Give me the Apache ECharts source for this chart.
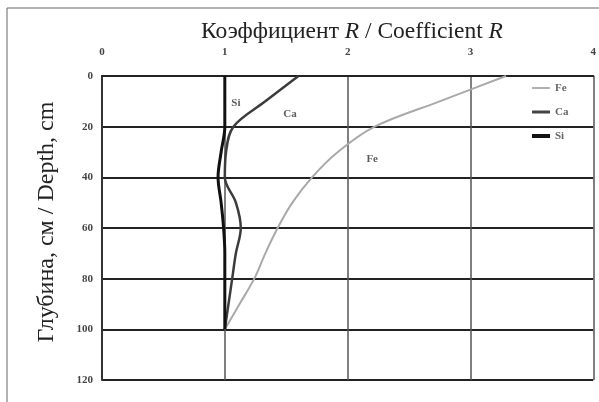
<!DOCTYPE html>
<html>
<head>
<meta charset="utf-8">
<script src="https://cdn.jsdelivr.net/npm/echarts@6/dist/echarts.min.js"></script>
<style>
  html, body { margin: 0; padding: 0; background: #fff; }
  #main { width: 599px; height: 402px; }
</style>
</head>
<body>
<div id="main"></div>
<script>
// depth, cm (y axis, inverted)
const depth = [0, 10, 20, 30, 40, 50, 60, 70, 80, 90, 100];
// coefficient R for each element
const fe = [3.29, 2.75, 2.22, 1.92, 1.71, 1.55, 1.43, 1.33, 1.24, 1.12, 1.0];
const ca = [1.60, 1.33, 1.07, 1.01, 1.00, 1.09, 1.13, 1.09, 1.06, 1.03, 1.0];
const si = [1.00, 1.00, 1.00, 0.97, 0.945, 0.97, 0.99, 1.00, 1.00, 1.00, 1.0];

const xTicks = [0, 1, 2, 3, 4];
const yTicks = [0, 20, 40, 60, 80, 100, 120];

// in-plot labels next to the curves
const tagNames = ['Si', 'Ca', 'Fe'];
const tagX = [1.09, 1.53, 2.2];
const tagDepth = [10.8, 15, 33];

const serif = '"Liberation Serif", "DejaVu Serif", serif';

function pairs(vals){ return vals.map((v,i)=>[v, depth[i]]); }
// short dash icon for the legend (empty first segment keeps the box height)
function dash(h){ return 'path://M0,0L0,14M0,' + (7 - h/2) + 'h18v' + h + 'h-18z'; }

const chart = echarts.init(document.getElementById('main'));

const lineSeries = (name, vals, color, width) => ({
  name, type: 'line', data: pairs(vals), smooth: 0.35,
  showSymbol: false, symbol: 'none',
  lineStyle: { color, width }, itemStyle: { color },
  z: 5
});

chart.setOption({
  animation: false,
  grid: { left: 102, right: 2, top: 76, bottom: 22 },
  xAxis: {
    type: 'value', position: 'top', min: xTicks[0], max: xTicks[xTicks.length-1], interval: 1,
    axisLine: { show: true, lineStyle: { color: '#222', width: 2 } },
    axisTick: { show: false },
    axisLabel: { margin: 18, fontFamily: serif, fontWeight: 'bold', fontSize: 11, color: '#444' },
    splitLine: { show: true, lineStyle: { color: '#555', width: 1.5 } }
  },
  yAxis: {
    type: 'value', inverse: true, min: yTicks[0], max: yTicks[yTicks.length-1], interval: 20,
    axisLine: { show: true, lineStyle: { color: '#333', width: 2 } },
    axisTick: { show: false },
    axisLabel: { margin: 9, fontFamily: serif, fontWeight: 'bold', fontSize: 11, color: '#444' },
    splitLine: { show: true, lineStyle: { color: '#222', width: 2 } }
  },
  legend: {
    orient: 'vertical', left: 532, top: 81, itemGap: 10,
    itemWidth: 18, itemHeight: 14,
    data: [
      { name: 'Fe', icon: dash(2), itemStyle: { color: '#b0b0b0' } },
      { name: 'Ca', icon: dash(3), itemStyle: { color: '#444' } },
      { name: 'Si', icon: dash(4), itemStyle: { color: '#111' } }
    ],
    textStyle: { fontFamily: serif, fontWeight: 'bold', fontSize: 11, color: '#666' },
    padding: [0, 4, 0, 0]
  },
  graphic: [
    { type: 'rect', shape: { x: 7, y: 8, width: 700, height: 500 },
      style: { fill: 'none', stroke: '#666', lineWidth: 1 }, silent: true },
    { type: 'text', x: 352, y: 32,
      style: { text: '{n|Коэффициент }{i|R}{n| / Coefficient }{i|R}', align: 'center', verticalAlign: 'middle',
        rich: {
          n: { fontFamily: serif, fontSize: 23.5, fill: '#222' },
          i: { fontFamily: serif, fontSize: 23.5, fontStyle: 'italic', fill: '#222' }
        } } },
    { type: 'text', x: 47, y: 222, rotation: Math.PI / 2,
      style: { text: 'Глубина, см / Depth, cm', align: 'center', verticalAlign: 'middle',
        fontFamily: serif, fontSize: 24, fill: '#222' } }
  ],
  series: [
    lineSeries('Fe', fe, '#a9a9a9', 2),
    lineSeries('Ca', ca, '#3c3c3c', 2.5),
    lineSeries('Si', si, '#111', 3),
    {
      type: 'scatter', symbolSize: 0, silent: true,
      data: tagNames.map((n,i)=>({ name: n, value: [tagX[i], tagDepth[i]] })),
      label: { show: true, position: 'inside', formatter: p => p.name,
        fontFamily: serif, fontWeight: 'bold', fontSize: 11, color: '#333' },
      z: 6
    }
  ]
});
</script>
</body>
</html>
